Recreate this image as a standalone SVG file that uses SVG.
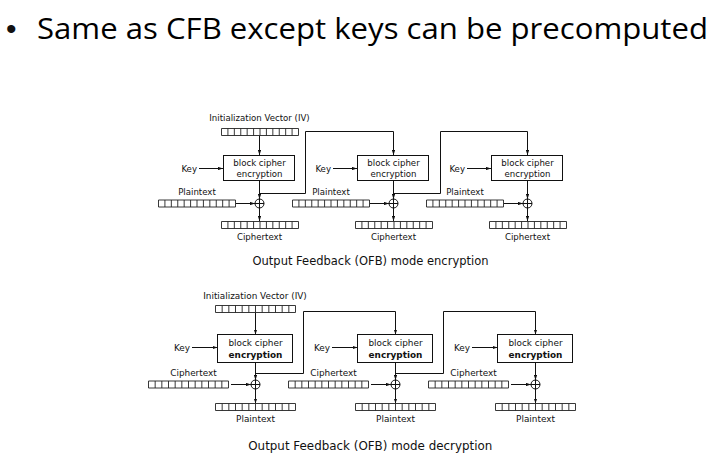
<svg xmlns="http://www.w3.org/2000/svg" xmlns:xlink="http://www.w3.org/1999/xlink" width="721" height="460" viewBox="0 0 721 460">
<style>
text{font-family:"DejaVu Sans","Liberation Sans",sans-serif;fill:#111}
.t{font-size:8.6px}
.b{font-size:8.9px}
.m{text-anchor:middle}
.e{text-anchor:end}
.bold{font-weight:bold}
.cap1{font-size:11.5px;text-anchor:middle}
.cap2{font-size:11.9px;text-anchor:middle}
.box{fill:#fff;stroke:#111;stroke-width:1}
.ln{fill:none;stroke:#111;stroke-width:1}
.arr{fill:none;stroke:#111;stroke-width:1;marker-end:url(#ah)}
.reg{fill:#fff;stroke:#222;stroke-width:0.9}
.xor{fill:#fff;stroke:#111;stroke-width:1}
.title{font-family:"Open Sans","Liberation Sans",sans-serif;font-size:29px;fill:#000}
</style>
<defs>
<marker id="ah" viewBox="0 0 6 4" refX="6" refY="2" markerWidth="5" markerHeight="3.6" orient="auto" markerUnits="userSpaceOnUse"><path d="M0,0 L6,2 L0,4 z" fill="#111"/></marker>
<g id="reg77"><path class="reg" d="M0,0 H77 V7 H0 Z M6.42,0 V7 M12.83,0 V7 M19.25,0 V7 M25.67,0 V7 M32.08,0 V7 M38.5,0 V7 M44.92,0 V7 M51.33,0 V7 M57.75,0 V7 M64.17,0 V7 M70.58,0 V7"/></g>
<g id="reg80"><path class="reg" d="M0,0 H80 V7 H0 Z M6.67,0 V7 M13.33,0 V7 M20,0 V7 M26.67,0 V7 M33.33,0 V7 M40,0 V7 M46.67,0 V7 M53.33,0 V7 M60,0 V7 M66.67,0 V7 M73.33,0 V7"/></g>
<g id="xr"><circle class="xor" cx="0" cy="0" r="4.5"/><path class="ln" d="M-4.5,0 H4.5 M0,-4.5 V4.5"/></g>
</defs>
<rect width="721" height="460" fill="#fff"/>

<g id="title">
<text x="6" y="39" style="font-family:'Liberation Sans',sans-serif;font-size:30px">•</text>
<text class="title" x="37" y="39" textLength="671" lengthAdjust="spacingAndGlyphs">Same as CFB except keys can be precomputed</text>
</g>

<!-- ENCRYPTION -->
<g id="enc-connectors">
<line class="arr" x1="259.5" y1="135.5" x2="259.5" y2="155"/>
<line class="arr" x1="199" y1="168.5" x2="223" y2="168.5"/>
<line class="arr" x1="259.5" y1="180.5" x2="259.5" y2="199"/>
<line class="arr" x1="236" y1="203.5" x2="255" y2="203.5"/>
<line class="arr" x1="259.5" y1="208" x2="259.5" y2="221"/>
<path class="arr" d="M259.5,193.5 H305.5 V131.5 H393.5 V155"/>
<line class="arr" x1="333" y1="168.5" x2="357" y2="168.5"/>
<line class="arr" x1="393.5" y1="180.5" x2="393.5" y2="199"/>
<line class="arr" x1="370" y1="203.5" x2="389" y2="203.5"/>
<line class="arr" x1="393.5" y1="208" x2="393.5" y2="221"/>
<path class="arr" d="M393.5,193.5 H440.5 V131.5 H527.5 V155"/>
<line class="arr" x1="467" y1="168.5" x2="491" y2="168.5"/>
<line class="arr" x1="527.5" y1="180.5" x2="527.5" y2="199"/>
<line class="arr" x1="504" y1="203.5" x2="523" y2="203.5"/>
<line class="arr" x1="527.5" y1="208" x2="527.5" y2="221"/>
</g>

<g id="enc-iv">
<text class="t m" x="259.5" y="121">Initialization Vector (IV)</text>
<use xlink:href="#reg77" x="221.5" y="128.5"/>
</g>

<g id="enc-stage1">
<rect class="box" x="223.5" y="155.5" width="71" height="25"/>
<text class="t m" x="259.5" y="165.5">block cipher</text>
<text class="t m" x="259.5" y="176.5">encryption</text>
<text class="t e" x="197" y="171.5">Key</text>
<text class="t m" x="197" y="195">Plaintext</text>
<use xlink:href="#reg77" x="158.5" y="200"/>
<use xlink:href="#xr" x="259.5" y="203.5"/>
<use xlink:href="#reg77" x="221.5" y="221.5"/>
<text class="t m" x="259.5" y="239.5">Ciphertext</text>
</g>

<g id="enc-stage2">
<rect class="box" x="357.5" y="155.5" width="71" height="25"/>
<text class="t m" x="393.5" y="165.5">block cipher</text>
<text class="t m" x="393.5" y="176.5">encryption</text>
<text class="t e" x="331" y="171.5">Key</text>
<text class="t m" x="331" y="195">Plaintext</text>
<use xlink:href="#reg77" x="292.5" y="200"/>
<use xlink:href="#xr" x="393.5" y="203.5"/>
<use xlink:href="#reg77" x="355.5" y="221.5"/>
<text class="t m" x="393.5" y="239.5">Ciphertext</text>
</g>

<g id="enc-stage3">
<rect class="box" x="491.5" y="155.5" width="71" height="25"/>
<text class="t m" x="527.5" y="165.5">block cipher</text>
<text class="t m" x="527.5" y="176.5">encryption</text>
<text class="t e" x="465" y="171.5">Key</text>
<text class="t m" x="465" y="195">Plaintext</text>
<use xlink:href="#reg77" x="426.5" y="200"/>
<use xlink:href="#xr" x="527.5" y="203.5"/>
<use xlink:href="#reg77" x="489.5" y="221.5"/>
<text class="t m" x="527.5" y="239.5">Ciphertext</text>
</g>

<g id="enc-caption">
<text class="cap1" x="370.5" y="265">Output Feedback (OFB) mode encryption</text>
</g>

<!-- DECRYPTION -->
<g id="dec-connectors">
<line class="arr" x1="255.5" y1="312.5" x2="255.5" y2="334.5"/>
<line class="arr" x1="192" y1="347.5" x2="217.5" y2="347.5"/>
<line class="arr" x1="255.5" y1="362.5" x2="255.5" y2="380"/>
<line class="arr" x1="231" y1="384.5" x2="251" y2="384.5"/>
<line class="arr" x1="255.5" y1="389" x2="255.5" y2="403.5"/>
<path class="arr" d="M255.5,373.5 H303.5 V311.5 H395.5 V334.5"/>
<line class="arr" x1="332" y1="347.5" x2="357.5" y2="347.5"/>
<line class="arr" x1="395.5" y1="362.5" x2="395.5" y2="380"/>
<line class="arr" x1="371" y1="384.5" x2="391" y2="384.5"/>
<line class="arr" x1="395.5" y1="389" x2="395.5" y2="403.5"/>
<path class="arr" d="M395.5,373.5 H443.5 V311.5 H535.5 V334.5"/>
<line class="arr" x1="472" y1="347.5" x2="497.5" y2="347.5"/>
<line class="arr" x1="535.5" y1="362.5" x2="535.5" y2="380"/>
<line class="arr" x1="511" y1="384.5" x2="531" y2="384.5"/>
<line class="arr" x1="535.5" y1="389" x2="535.5" y2="403.5"/>
</g>

<g id="dec-iv">
<text class="b m" x="255" y="299">Initialization Vector (IV)</text>
<use xlink:href="#reg80" x="215.5" y="305.5"/>
</g>

<g id="dec-stage1">
<rect class="box" x="217.5" y="334.5" width="75" height="28"/>
<text class="b m" x="255.5" y="346">block cipher</text>
<text class="b m bold" x="255.5" y="357.5">encryption</text>
<text class="b e" x="190" y="350.5">Key</text>
<text class="b m" x="193.5" y="375.5">Ciphertext</text>
<use xlink:href="#reg80" x="148.5" y="381"/>
<use xlink:href="#xr" x="255.5" y="384.5"/>
<use xlink:href="#reg80" x="215.5" y="403.5"/>
<text class="b m" x="255.5" y="421.5">Plaintext</text>
</g>

<g id="dec-stage2">
<rect class="box" x="357.5" y="334.5" width="75" height="28"/>
<text class="b m" x="395.5" y="346">block cipher</text>
<text class="b m bold" x="395.5" y="357.5">encryption</text>
<text class="b e" x="330" y="350.5">Key</text>
<text class="b m" x="333.5" y="375.5">Ciphertext</text>
<use xlink:href="#reg80" x="288.5" y="381"/>
<use xlink:href="#xr" x="395.5" y="384.5"/>
<use xlink:href="#reg80" x="355.5" y="403.5"/>
<text class="b m" x="395.5" y="421.5">Plaintext</text>
</g>

<g id="dec-stage3">
<rect class="box" x="497.5" y="334.5" width="75" height="28"/>
<text class="b m" x="535.5" y="346">block cipher</text>
<text class="b m bold" x="535.5" y="357.5">encryption</text>
<text class="b e" x="470" y="350.5">Key</text>
<text class="b m" x="473.5" y="375.5">Ciphertext</text>
<use xlink:href="#reg80" x="428.5" y="381"/>
<use xlink:href="#xr" x="535.5" y="384.5"/>
<use xlink:href="#reg80" x="495.5" y="403.5"/>
<text class="b m" x="535.5" y="421.5">Plaintext</text>
</g>

<g id="dec-caption">
<text class="cap2" x="370.3" y="450">Output Feedback (OFB) mode decryption</text>
</g>
</svg>
